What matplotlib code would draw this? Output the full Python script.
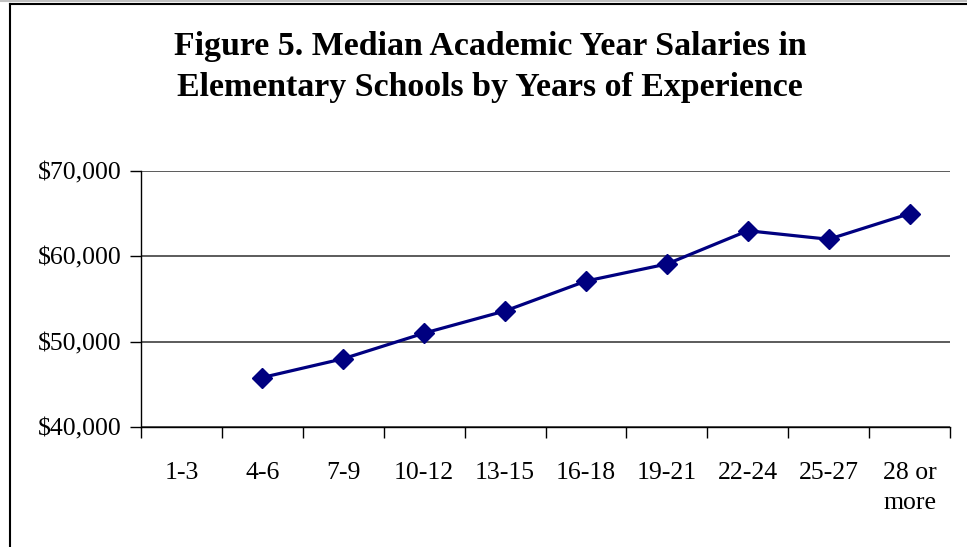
import numpy as np
import matplotlib
matplotlib.use('Agg')
import matplotlib.pyplot as plt
from matplotlib.lines import Line2D
from matplotlib.ticker import FuncFormatter

# Dati
categories = ['1-3', '4-6', '7-9', '10-12', '13-15', '16-18', '19-21', '22-24', '25-27', '28 or\nmore']
salaries = [np.nan, 45800, 48000, 51000, 53600, 57100, 59100, 63000, 62000, 65000]
y_ticks = [40000, 50000, 60000, 70000]

title = 'Figure 5. Median Academic Year Salaries in\nElementary Schools by Years of Experience'

plt.rcParams['font.family'] = ['Liberation Serif', 'DejaVu Serif']

fig = plt.figure(figsize=(9.67, 5.47), dpi=100)
ax = fig.add_axes([141 / 967, 1 - 427 / 547, 809 / 967, 256 / 547])

x = np.arange(len(categories))
ax.plot(x, salaries, color='#000080', linewidth=2.3, marker='D', markersize=10, zorder=3)

ax.set_xlim(-0.5, len(categories) - 0.5)
ax.set_ylim(y_ticks[0], y_ticks[-1])

# tacche ai confini delle categorie, etichette al centro
ax.set_xticks(np.arange(-0.5, len(categories), 1.0))
ax.set_xticklabels([])
ax.set_xticks(x, minor=True)
ax.set_xticklabels(categories, minor=True, fontsize=18.5, linespacing=1.5, va='top')
ax.tick_params(axis='x', which='major', length=8, width=1, color='black', direction='out')
ax.tick_params(axis='x', which='minor', length=0, pad=25)

ax.set_yticks(y_ticks)
ax.yaxis.set_major_formatter(FuncFormatter(lambda v, p: f'${v:,.0f}'))
ax.tick_params(axis='y', length=8, width=1, labelsize=18.5, pad=6)

ax.grid(axis='y', color='#404040', linewidth=1.2)
ax.set_axisbelow(True)
for side in ['top', 'right']:
    ax.spines[side].set_visible(False)
for side in ['left', 'bottom']:
    ax.spines[side].set_color('black')
    ax.spines[side].set_linewidth(1)

fig.text(0.507, 1 - 67 / 547, title, ha='center', va='center', fontsize=24.4,
         fontweight='bold', linespacing=1.38)

# bordo del grafico
fig.add_artist(Line2D([10 / 967, 10 / 967], [0, 1 - 4 / 547], transform=fig.transFigure,
                      color='black', linewidth=1.5))
fig.add_artist(Line2D([10 / 967, 1], [1 - 4 / 547, 1 - 4 / 547], transform=fig.transFigure,
                      color='black', linewidth=1.5))
fig.add_artist(Line2D([0, 1], [1 - 0.5 / 547, 1 - 0.5 / 547], transform=fig.transFigure,
                      color='#c0c0c0', linewidth=1.5))

fig.savefig('out.png', dpi=100)
